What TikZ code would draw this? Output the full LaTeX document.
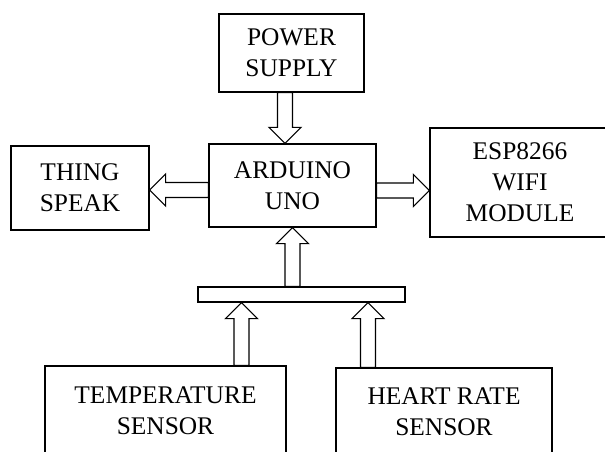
\documentclass[tikz,border=0pt]{standalone}
\usepackage{fontspec}
\setmainfont{Liberation Serif}
\usetikzlibrary{calc}
% hollow block arrow from #1 to #2
\newcommand{\fatarrow}[2]{%
 \draw[fat] ($(#1)!3.75pt!90:(#2)$)
  -- ($(#2)!8pt!(#1)!3.75pt!90:(#2)$)
  -- ($(#2)!8pt!(#1)!8pt!90:(#2)$)
  -- (#2)
  -- ($(#2)!8pt!(#1)!8pt!-90:(#2)$)
  -- ($(#2)!8pt!(#1)!3.75pt!-90:(#2)$)
  -- ($(#1)!3.75pt!-90:(#2)$) -- cycle;}

\begin{document}
\begin{tikzpicture}[x=0.5pt,y=-0.5pt,
 every node/.style={font=\fontsize{12.7}{15.5}\selectfont},
 block/.style={draw,line width=0.6pt,align=center,inner sep=0pt},
 fat/.style={draw,fill=white,line width=0.55pt,line join=miter}]
\useasboundingbox (0,0) rectangle (605,451);
\node[block,minimum width=83.5pt,minimum height=41.5pt] (arduino) at (292.5,185.5) {ARDUINO\\UNO};
\node[block,minimum width=72.5pt,minimum height=39pt] (power) at (291.5,53) {POWER\\SUPPLY};
\node[block,minimum width=69pt,minimum height=42pt] (thing) at (80,188) {THING\\SPEAK};
\node[block,minimum width=90pt,minimum height=54.5pt] (esp) at (520,182.5) {ESP8266\\WIFI\\MODULE};
\node[block,minimum width=103.5pt,minimum height=7.5pt] (bus) at (301.5,294.5) {};
\node[block,minimum width=120.5pt,minimum height=45pt] (temp) at (165.5,411) {TEMPERATURE\\SENSOR};
\node[block,minimum width=108pt,minimum height=44pt] (heart) at (444,412) {HEART RATE\\SENSOR};

\coordinate (pwrout) at ([xshift=-3.25pt]power.south);
\coordinate (pwrin) at (pwrout |- arduino.north);
\coordinate (tsout) at ([yshift=-2.25pt]arduino.west);
\coordinate (tsin) at (tsout -| thing.east);
\coordinate (espout) at ([yshift=-2.5pt]arduino.east);
\coordinate (espin) at (espout -| esp.west);
\coordinate (busout) at (bus.north -| arduino.south);
\coordinate (tempout) at ([xshift=38pt]temp.north);
\coordinate (tempin) at (tempout |- bus.south);
\coordinate (heartout) at ([xshift=-38pt]heart.north);
\coordinate (heartin) at (heartout |- bus.south);

\fatarrow{pwrout}{pwrin}
\fatarrow{tsout}{tsin}
\fatarrow{espout}{espin}
\fatarrow{busout}{arduino.south}
\fatarrow{tempout}{tempin}
\fatarrow{heartout}{heartin}
\end{tikzpicture}
\end{document}
